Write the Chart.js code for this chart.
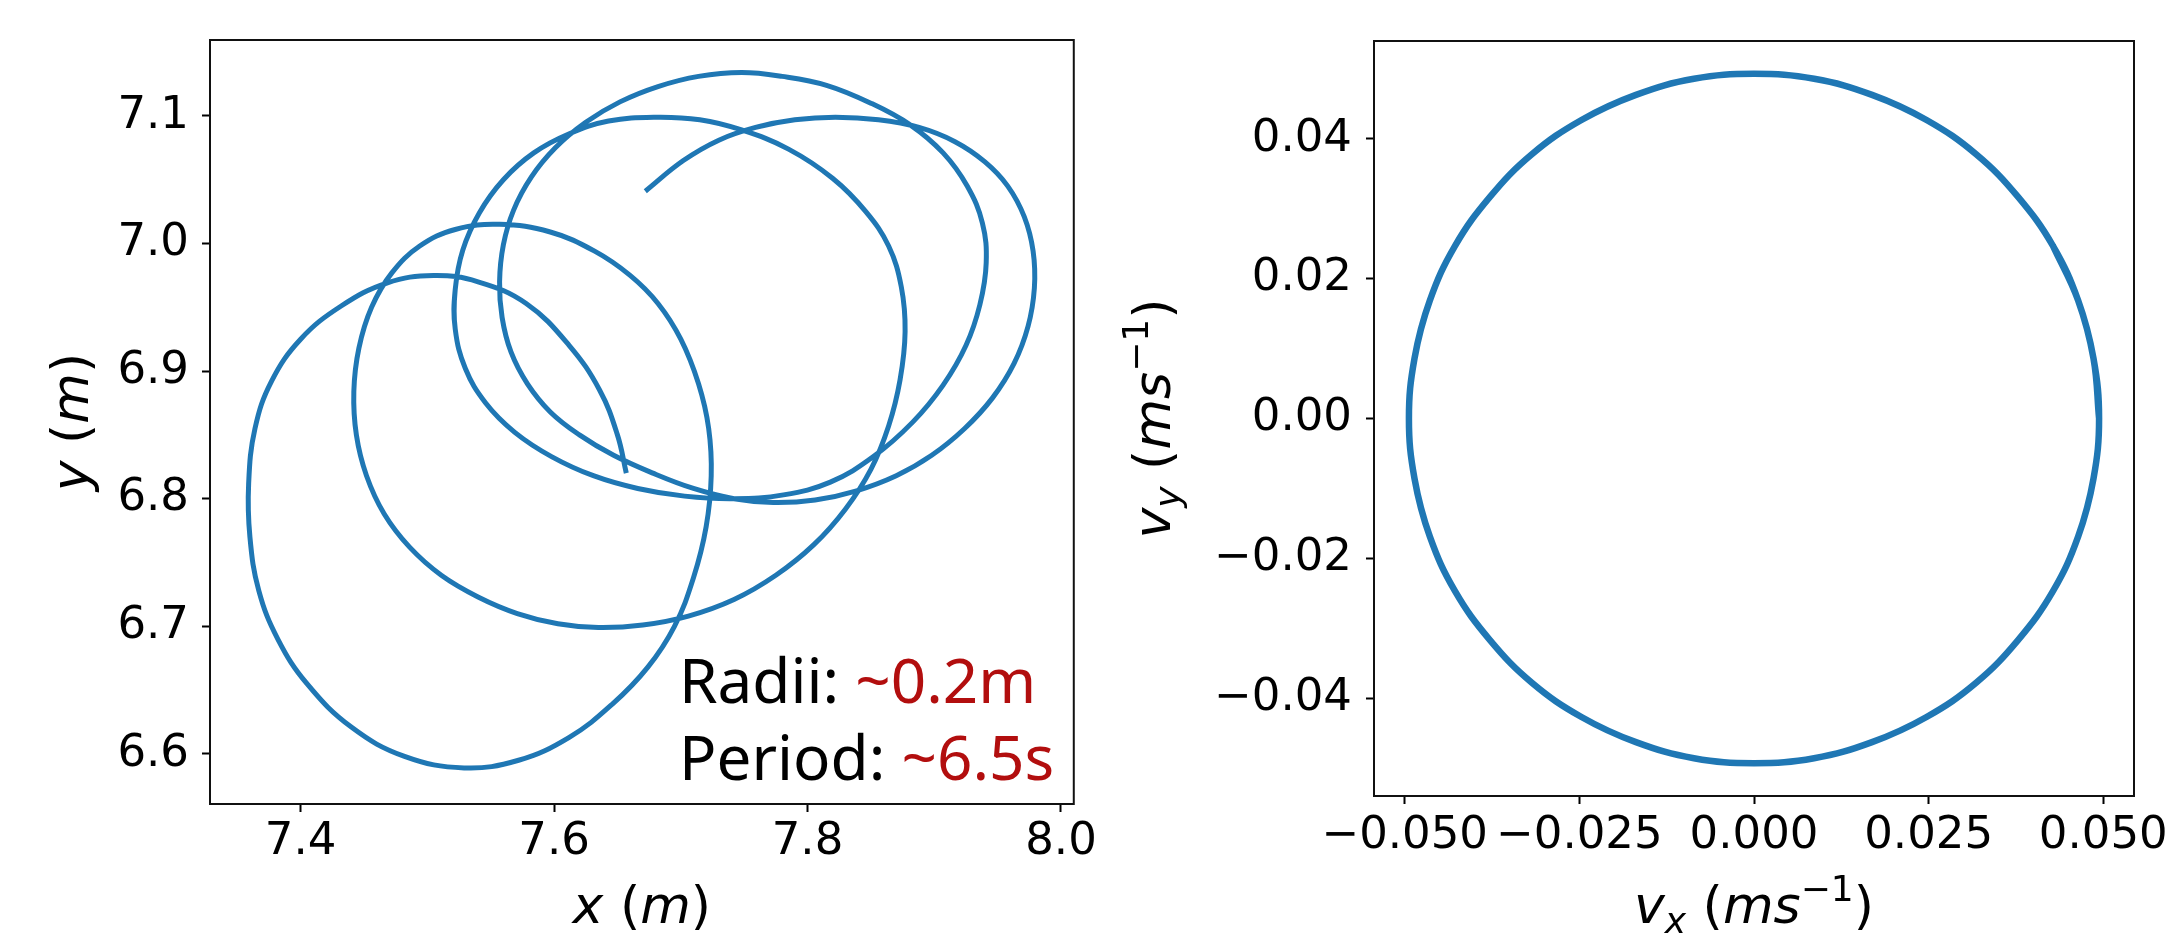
<!DOCTYPE html>
<html lang="en">
<head>
<meta charset="UTF-8" />
<title>Trajectory and velocity</title>
<script src="https://cdn.jsdelivr.net/npm/chart.js"></script>
<style>
    html, body { margin: 0; padding: 0; background: #fff; }
    body { width: 2175px; height: 937px; position: relative; overflow: hidden; }
    canvas { position: absolute; top: 0; }
    #posChart { left: 0; }
    #velChart { left: 1100px; }
</style>
</head>
<body>
<canvas id="posChart" width="1100" height="937"></canvas>
<canvas id="velChart" width="1075" height="937"></canvas>

<script>
// position trace (m)
const xPos = [
    7.657, 7.650, 7.636, 7.612, 7.578, 7.540, 7.505, 7.468, 7.432, 7.400,
    7.377, 7.364, 7.359, 7.360, 7.367, 7.382, 7.405, 7.440, 7.482, 7.529,
    7.572, 7.612, 7.646, 7.674, 7.695, 7.710, 7.720, 7.724, 7.722, 7.714,
    7.700, 7.682, 7.660, 7.632, 7.597, 7.557, 7.522, 7.494, 7.472, 7.456,
    7.446, 7.442, 7.444, 7.452, 7.466, 7.486, 7.511, 7.540, 7.571, 7.603,
    7.635, 7.670, 7.706, 7.742, 7.775, 7.805, 7.830, 7.850, 7.864, 7.873,
    7.877, 7.874, 7.864, 7.846, 7.820, 7.785, 7.748, 7.715, 7.680, 7.643,
    7.612, 7.584, 7.560, 7.541, 7.528, 7.522, 7.522, 7.530, 7.546, 7.569,
    7.598, 7.631, 7.666, 7.703, 7.742, 7.781, 7.818, 7.852, 7.883, 7.907,
    7.925, 7.936, 7.941, 7.938, 7.926, 7.907, 7.881, 7.850, 7.815, 7.780,
    7.748, 7.714, 7.682, 7.652, 7.625, 7.601, 7.582, 7.568, 7.560, 7.557,
    7.559, 7.566, 7.579, 7.597, 7.620, 7.647, 7.678, 7.710, 7.742, 7.773,
    7.806, 7.838, 7.870, 7.898, 7.924, 7.946, 7.963, 7.974, 7.979, 7.978,
    7.971, 7.958, 7.940, 7.916, 7.888, 7.856, 7.822, 7.790, 7.759, 7.730,
    7.702, 7.672
];
const yPos = [
    6.820, 6.850, 6.885, 6.920, 6.953, 6.970, 6.975, 6.969, 6.951, 6.925,
    6.892, 6.855, 6.812, 6.770, 6.728, 6.690, 6.655, 6.621, 6.598, 6.589,
    6.595, 6.613, 6.639, 6.668, 6.700, 6.738, 6.778, 6.818, 6.855, 6.890,
    6.925, 6.953, 6.975, 6.994, 7.009, 7.015, 7.011, 6.998, 6.977, 6.950,
    6.918, 6.884, 6.850, 6.818, 6.788, 6.762, 6.740, 6.723, 6.710, 6.702,
    6.699, 6.701, 6.708, 6.721, 6.740, 6.764, 6.792, 6.823, 6.857, 6.893,
    6.931, 6.966, 6.998, 7.025, 7.051, 7.074, 7.089, 7.097, 7.099, 7.096,
    7.086, 7.071, 7.050, 7.024, 6.995, 6.964, 6.933, 6.902, 6.875, 6.852,
    6.833, 6.818, 6.808, 6.802, 6.800, 6.803, 6.813, 6.833, 6.860, 6.889,
    6.920, 6.952, 6.985, 7.016, 7.045, 7.071, 7.093, 7.110, 7.124, 7.131,
    7.134, 7.131, 7.123, 7.111, 7.095, 7.075, 7.052, 7.026, 6.999, 6.970,
    6.942, 6.915, 6.890, 6.868, 6.850, 6.834, 6.820, 6.808, 6.800, 6.797,
    6.799, 6.806, 6.818, 6.834, 6.855, 6.879, 6.906, 6.935, 6.965, 6.994,
    7.021, 7.045, 7.064, 7.080, 7.091, 7.097, 7.099, 7.097, 7.091, 7.081,
    7.065, 7.041
];

// velocity trace (m/s), one loop of the circle plus a little overlap
const vx = [
    0.0494, 0.0486, 0.0464, 0.0428, 0.0378, 0.0318, 0.0247, 0.0169, 0.0086, 0.0000,
    -0.0086, -0.0169, -0.0247, -0.0318, -0.0378, -0.0428, -0.0464, -0.0486, -0.0494,
    -0.0486, -0.0464, -0.0428, -0.0378, -0.0318, -0.0247, -0.0169, -0.0086, 0.0000,
    0.0086, 0.0169, 0.0247, 0.0318, 0.0378, 0.0428, 0.0464, 0.0486, 0.0494,
    0.0486, 0.0464, 0.0428
];
const vy = [
    0.0000, 0.0086, 0.0169, 0.0247, 0.0317, 0.0378, 0.0427, 0.0463, 0.0486, 0.0493,
    0.0486, 0.0463, 0.0427, 0.0378, 0.0317, 0.0247, 0.0169, 0.0086, 0.0000,
    -0.0086, -0.0169, -0.0247, -0.0317, -0.0378, -0.0427, -0.0463, -0.0486, -0.0493,
    -0.0486, -0.0463, -0.0427, -0.0378, -0.0317, -0.0247, -0.0169, -0.0086, 0.0000,
    0.0086, 0.0169, 0.0247
];

const xTicks = [7.4, 7.6, 7.8, 8.0];
const xTickLabels = ["7.4", "7.6", "7.8", "8.0"];
const yTicks = [6.6, 6.7, 6.8, 6.9, 7.0, 7.1];
const yTickLabels = ["6.6", "6.7", "6.8", "6.9", "7.0", "7.1"];
const vxTicks = [-0.05, -0.025, 0, 0.025, 0.05];
const vxTickLabels = ["\u22120.050", "\u22120.025", "0.000", "0.025", "0.050"];
const vyTicks = [-0.04, -0.02, 0, 0.02, 0.04];
const vyTickLabels = ["\u22120.04", "\u22120.02", "0.00", "0.02", "0.04"];

const blue = "#1f77b4";
const red = "#b20e0e";

Chart.defaults.font.family = '"DejaVu Sans"';
Chart.defaults.font.size = 45;
Chart.defaults.color = "#000";

// text with italic parts and sub/superscripts, centred on (x, y)
function richText(ctx, parts, size, x, y, rotate) {
    const fontOf = (p) =>
        (p[1] ? "italic " : "") + Math.round(size * (p[2] || 1)) + 'px "DejaVu Sans"';
    let total = 0;
    parts.forEach((p) => {
        ctx.font = fontOf(p);
        total += ctx.measureText(p[0]).width;
    });
    ctx.save();
    ctx.translate(x, y);
    if (rotate) ctx.rotate(-Math.PI / 2);
    ctx.textAlign = "left";
    ctx.textBaseline = "alphabetic";
    ctx.fillStyle = "#000";
    let cx = -total / 2;
    parts.forEach((p) => {
        ctx.font = fontOf(p);
        ctx.fillText(p[0], cx, -(p[3] || 0) * size);
        cx += ctx.measureText(p[0]).width;
    });
    ctx.restore();
}

function axis(min, max, ticks, labels, pad, fit) {
    return {
        type: "linear",
        min: min,
        max: max,
        afterBuildTicks: (s) => {
            s.ticks = ticks.map((v) => ({ value: v }));
        },
        afterFit: fit,
        ticks: {
            callback: (v, i) => labels[i],
            padding: pad,
            autoSkip: false,
            maxRotation: 0,
        },
        grid: {
            drawOnChartArea: false,
            tickLength: 8,
            tickWidth: 2,
            tickColor: "#000",
        },
        border: { display: false },
    };
}

function framePlugin(xTitle, yTitle, yTitleX, extra) {
    return {
        id: "frame",
        afterDraw: function (chart) {
            const ctx = chart.ctx;
            const a = chart.chartArea;
            ctx.save();
            ctx.lineWidth = 2;
            ctx.strokeStyle = "#111";
            ctx.strokeRect(a.left, a.top, a.right - a.left, a.bottom - a.top);
            ctx.restore();
            richText(ctx, xTitle, 52, (a.left + a.right) / 2, 923, false);
            richText(ctx, yTitle, 52, yTitleX, (a.top + a.bottom) / 2, true);
            if (extra) extra(ctx, a);
        },
    };
}

function annotate(ctx, a) {
    const lines = [
        ["Radii: ", "~0.2m", a.bottom - 101],
        ["Period: ", "~6.5s", a.bottom - 24],
    ];
    ctx.save();
    ctx.font = '62px "Noto Sans"';
    ctx.textBaseline = "alphabetic";
    lines.forEach((l) => {
        const x = a.left + 469;
        ctx.fillStyle = "#000";
        ctx.fillText(l[0], x, l[2]);
        ctx.fillStyle = red;
        ctx.fillText(l[1], x + ctx.measureText(l[0]).width, l[2]);
    });
    ctx.restore();
}

// line type with linear x so the points are joined in order, smoothed
new Chart(document.getElementById("posChart"), {
    type: "line",
    data: {
        datasets: [
            {
                data: xPos.map((x, i) => ({ x: x, y: yPos[i] })),
                borderColor: blue,
                borderWidth: 5,
                pointRadius: 0,
                tension: 0.4,
                fill: false,
                borderCapStyle: "butt",
            },
        ],
    },
    options: {
        responsive: false,
        animation: false,
        layout: { padding: { top: 36, right: 16, left: 0, bottom: 0 } },
        plugins: { legend: { display: false }, tooltip: { enabled: false } },
        scales: {
            x: axis(7.3285, 8.0101, xTicks, xTickLabels, 3, (s) => { s.height = 133; }),
            y: axis(6.5607, 7.1595, yTicks, yTickLabels, 13, (s) => { s.width = 210; }),
        },
    },
    plugins: [
        framePlugin(
            [["x", 1], [" (", 0], ["m", 1], [")", 0]],
            [["y", 1], [" (", 0], ["m", 1], [")", 0]],
            88,
            annotate
        ),
    ],
});

new Chart(document.getElementById("velChart"), {
    type: "line",
    data: {
        datasets: [
            {
                data: vx.map((x, i) => ({ x: x, y: vy[i] })),
                borderColor: blue,
                borderWidth: 6.5,
                pointRadius: 0,
                tension: 0.4,
                fill: false,
            },
        ],
    },
    options: {
        responsive: false,
        animation: false,
        layout: { padding: { top: 40, right: 41, left: 0, bottom: 0 } },
        plugins: { legend: { display: false }, tooltip: { enabled: false } },
        scales: {
            x: axis(-0.0544, 0.0544, vxTicks, vxTickLabels, 5, (s) => { s.height = 141; }),
            y: axis(-0.054, 0.054, vyTicks, vyTickLabels, 14, (s) => { s.width = 274; }),
        },
    },
    plugins: [
        framePlugin(
            [["v", 1], ["x", 1, 0.7, -0.2], [" (", 0], ["ms", 1], ["\u22121", 0, 0.7, 0.42], [")", 0]],
            [["v", 1], ["y", 1, 0.7, -0.2], [" (", 0], ["ms", 1], ["\u22121", 0, 0.7, 0.42], [")", 0]],
            70
        ),
    ],
});
</script>
</body>
</html>
